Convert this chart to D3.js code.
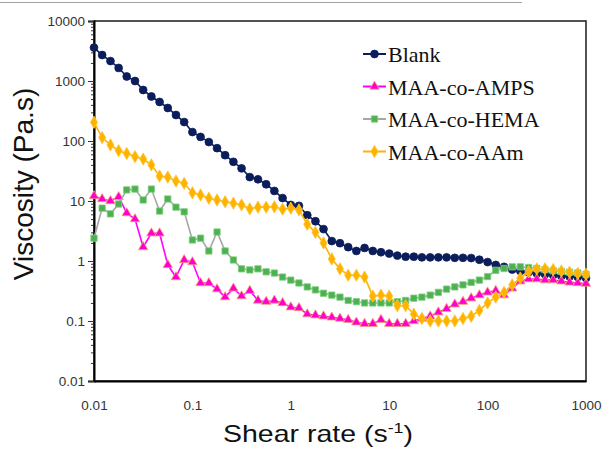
<!DOCTYPE html>
<html>
<head>
<meta charset="utf-8">
<script src="https://cdn.jsdelivr.net/npm/d3@7"></script>
<style>
  body { margin: 0; background: #fff; }
  svg { display: block; }
</style>
</head>
<body>
<div id="chartwrap"></div>
<script>
const WIDTH = 603;
const HEIGHT = 451;

const plot = { left: 94, right: 586, top: 21, bottom: 381 };

// shear rates (s-1), shared by all series
const shearRates = [
  0.01, 0.0121, 0.0147, 0.0178, 0.0215, 0.0261, 0.0316, 0.0383, 0.0464, 0.0562, 0.0681, 0.0825,
  0.1, 0.121, 0.147, 0.178, 0.215, 0.261, 0.316, 0.383, 0.464, 0.562, 0.681, 0.825,
  1, 1.21, 1.47, 1.78, 2.15, 2.61, 3.16, 3.83, 4.64, 5.62, 6.81, 8.25,
  10, 12.1, 14.7, 17.8, 21.5, 26.1, 31.6, 38.3, 46.4, 56.2, 68.1, 82.5,
  100, 121, 147, 178, 215, 261, 316, 383, 464, 562, 681, 825,
  1000
];

const blank = [
  3600, 2710, 2150, 1650, 1190, 1000, 708, 552, 447, 355, 271, 207,
  141, 117, 96, 76, 58, 45, 35, 25, 23, 19, 14.7, 11.2,
  8.6, 8.3, 5.8, 4.6, 3.4, 2.15, 1.98, 1.7, 1.47, 1.65, 1.47, 1.4,
  1.33, 1.23, 1.18, 1.18, 1.15, 1.15, 1.15, 1.15, 1.13, 1.13, 1.12, 1.05,
  0.96, 0.86, 0.8, 0.72, 0.68, 0.65, 0.62, 0.6, 0.58, 0.56, 0.55, 0.54,
  0.52
];

const amps = [
  12.1, 10.8, 10, 11.7, 6.3, 5.0, 1.71, 2.9, 2.9, 0.86, 0.54, 1.04,
  0.96, 0.43, 0.43, 0.34, 0.25, 0.35, 0.26, 0.32, 0.22, 0.21, 0.22, 0.2,
  0.17, 0.165, 0.13, 0.125, 0.12, 0.115, 0.11, 0.105, 0.095, 0.09, 0.09, 0.105,
  0.09, 0.09, 0.09, 0.1, 0.11, 0.12, 0.14, 0.16, 0.19, 0.21, 0.24, 0.27,
  0.3, 0.32, 0.27, 0.35, 0.46, 0.5, 0.5, 0.48, 0.48, 0.46, 0.44, 0.43,
  0.42
];

const hema = [
  2.4, 7.6, 6.1, 8.9, 15.3, 15.8, 10.4, 15.8, 6.8, 10.8, 7.9, 6.6,
  2.24, 2.4, 1.47, 3.04, 1.47, 1.04, 0.74, 0.71, 0.74, 0.66, 0.63, 0.54,
  0.48, 0.43, 0.37, 0.33, 0.29, 0.27, 0.25, 0.22, 0.21, 0.2, 0.2, 0.2,
  0.2, 0.21, 0.22, 0.24, 0.25, 0.27, 0.3, 0.34, 0.37, 0.4, 0.44, 0.48,
  0.55, 0.7, 0.75, 0.8, 0.8, 0.78, 0.75, 0.72, 0.69, 0.67, 0.65, 0.63,
  0.6
];

const aam = [
  205, 114, 86, 69, 62, 55, 50, 40, 26, 25, 21.5, 19.7,
  13.7, 12.6, 11.1, 10.4, 9.7, 9.2, 8.6, 7.4, 7.9, 7.9, 8.0, 7.3,
  7.6, 7.1, 4.1, 3.0, 2.0, 1.08, 0.74, 0.58, 0.58, 0.54, 0.26, 0.27,
  0.26, 0.18, 0.18, 0.13, 0.11, 0.1, 0.1, 0.1, 0.1, 0.11, 0.12, 0.15,
  0.2, 0.25, 0.3, 0.4, 0.52, 0.66, 0.74, 0.74, 0.72, 0.68, 0.65, 0.62,
  0.6
];

const seriesNames = ['Blank', 'MAA-co-AMPS', 'MAA-co-HEMA', 'MAA-co-AAm'];

const xTicks = [0.01, 0.1, 1, 10, 100, 1000];
const xTickLabels = ['0.01', '0.1', '1', '10', '100', '1000'];
const yTicks = [0.01, 0.1, 1, 10, 100, 1000, 10000];
const yTickLabels = ['0.01', '0.1', '1', '10', '100', '1000', '10000'];

const styles = [
  { line: '#0b1d5a', fill: '#0b1d5a', stroke: '#0b1d5a', shape: d3.symbolCircle, size: 48 },
  { line: '#ff00ff', fill: '#ff00cc', stroke: '#f7a07a', shape: d3.symbolTriangle, size: 38 },
  { line: '#a6a6a6', fill: '#4cb14f', stroke: '#7fcf7f', shape: d3.symbolSquare, size: 40 },
  { line: '#ffb300', fill: '#ffb300', stroke: '#ffc533', shape: d3.symbolDiamond, size: 44 }
];

const series = [blank, amps, hema, aam].map((vals, i) => ({
  name: seriesNames[i],
  style: styles[i],
  points: vals.map((v, j) => ({ x: shearRates[j], y: v }))
}));

const xScale = d3.scaleLog()
  .domain([0.01, 1000])
  .range([plot.left, plot.right]);

const yScale = d3.scaleLog()
  .domain([0.01, 10000])
  .range([plot.bottom, plot.top]);

const svg = d3.select('#chartwrap')
  .append('svg')
  .attr('width', WIDTH)
  .attr('height', HEIGHT)
  .style('font-family', '"Liberation Sans", Arial, sans-serif');

// thin grey rule at the top of the picture
svg.append('line')
  .attr('x1', 0).attr('x2', 522)
  .attr('y1', 2.5).attr('y2', 2.5)
  .attr('stroke', '#a0a0a0')
  .attr('stroke-width', 1);

// plot frame
svg.append('rect')
  .attr('x', plot.left)
  .attr('y', plot.top)
  .attr('width', plot.right - plot.left)
  .attr('height', plot.bottom - plot.top)
  .attr('fill', 'none')
  .attr('stroke', '#1a1a1a')
  .attr('stroke-width', 1.5);

// minor y ticks
const minorTicks = [];
yTicks.slice(0, -1).forEach(t => {
  for (let k = 2; k <= 9; k++) minorTicks.push(t * k);
});

svg.append('g')
  .attr('transform', `translate(${plot.left},0)`)
  .call(d3.axisLeft(yScale).tickValues(minorTicks).tickSize(3).tickFormat(''))
  .call(g => g.select('.domain').remove())
  .call(g => g.selectAll('line').attr('stroke', '#333'));

const yAxis = d3.axisLeft(yScale)
  .tickValues(yTicks)
  .tickSize(6)
  .tickPadding(3)
  .tickFormat((d, i) => yTickLabels[i]);

svg.append('g')
  .attr('id', 'y-axis')
  .attr('transform', `translate(${plot.left},0)`)
  .call(yAxis)
  .call(g => g.select('.domain').attr('stroke', '#000').attr('stroke-width', 2))
  .call(g => g.selectAll('line').attr('stroke', '#333'))
  .call(g => g.selectAll('text')
    .attr('font-size', 13.5)
    .attr('fill', '#333')
    .attr('font-family', '"Liberation Sans", Arial, sans-serif'));

const xAxis = d3.axisBottom(xScale)
  .tickValues(xTicks)
  .tickSize(0)
  .tickPadding(19)
  .tickFormat((d, i) => xTickLabels[i]);

svg.append('g')
  .attr('id', 'x-axis')
  .attr('transform', `translate(0,${plot.bottom})`)
  .call(xAxis)
  .call(g => g.select('.domain').attr('stroke', '#000').attr('stroke-width', 2))
  .call(g => g.selectAll('text')
    .attr('font-size', 13.5)
    .attr('fill', '#333')
    .attr('font-family', '"Liberation Sans", Arial, sans-serif'));

// series
const line = d3.line()
  .x(d => xScale(d.x))
  .y(d => yScale(d.y));

series.forEach(s => {
  const g = svg.append('g').attr('class', 'series');
  g.append('path')
    .datum(s.points)
    .attr('fill', 'none')
    .attr('stroke', s.style.line)
    .attr('stroke-width', 1.6)
    .attr('d', line);
  g.selectAll('path.mark')
    .data(s.points)
    .enter()
    .append('path')
    .attr('class', 'mark')
    .attr('d', d3.symbol().type(s.style.shape).size(s.style.size))
    .attr('transform', d => `translate(${xScale(d.x)},${yScale(d.y)})`)
    .attr('fill', s.style.fill)
    .attr('stroke', s.style.stroke)
    .attr('stroke-width', 0.8);
});

// legend
const legend = svg.append('g')
  .attr('transform', 'translate(363,54)');

series.forEach((s, i) => {
  const row = legend.append('g').attr('transform', `translate(0,${i * 32.5})`);
  row.append('line')
    .attr('x1', 0).attr('x2', 23)
    .attr('stroke', s.style.line)
    .attr('stroke-width', 2);
  row.append('path')
    .attr('d', d3.symbol().type(s.style.shape).size(s.style.size))
    .attr('transform', 'translate(11.5,0)')
    .attr('fill', s.style.fill)
    .attr('stroke', s.style.stroke)
    .attr('stroke-width', 0.8);
  row.append('text')
    .attr('x', 25)
    .attr('y', 8)
    .attr('font-family', '"Liberation Serif", "Times New Roman", serif')
    .attr('font-size', 22)
    .attr('fill', '#111')
    .text(s.name);
});

// axis titles
const xTitle = svg.append('text')
  .attr('x', 318)
  .attr('y', 442)
  .attr('text-anchor', 'middle')
  .attr('font-size', 24)
  .attr('textLength', 190)
  .attr('lengthAdjust', 'spacingAndGlyphs')
  .attr('fill', '#111');
xTitle.append('tspan').text('Shear rate (s');
xTitle.append('tspan').attr('font-size', 15).attr('dy', -9).text('-1');
xTitle.append('tspan').attr('dy', 9).text(')');

svg.append('text')
  .attr('transform', 'translate(33,184) rotate(-90)')
  .attr('text-anchor', 'middle')
  .attr('font-size', 28)
  .attr('fill', '#111')
  .text('Viscosity (Pa.s)');
</script>
</body>
</html>
